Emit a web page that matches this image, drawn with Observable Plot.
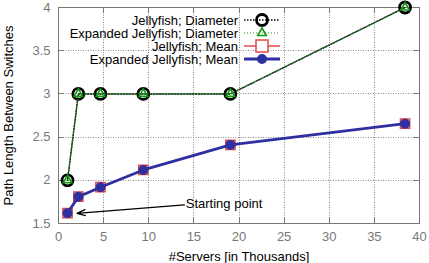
<!DOCTYPE html>
<html><head><meta charset="utf-8">
<script src="https://cdn.jsdelivr.net/npm/d3@7"></script>
<script src="https://cdn.jsdelivr.net/npm/@observablehq/plot@0.6"></script>
<style>body{margin:0;background:#fff}svg{display:block}</style>
</head><body><div id="chart"></div>
<script>
const servers = [1.0, 2.2, 4.65, 9.4, 19.05, 38.4];
const jfDiameter = [2, 3, 3, 3, 3, 4];
const ejfDiameter = [2, 3, 3, 3, 3, 4];
const jfMean = [1.62, 1.81, 1.92, 2.12, 2.41, 2.655];
const ejfMean = [1.62, 1.81, 1.92, 2.12, 2.41, 2.655];
const xTicks = [0, 5, 10, 15, 20, 25, 30, 35, 40];
const yTicks = [1.5, 2, 2.5, 3, 3.5, 4];
const seriesNames = ["Jellyfish; Diameter", "Expanded Jellyfish; Diameter", "Jellyfish; Mean", "Expanded Jellyfish; Mean"];
const annotation = [{label: "Starting point", x: 14.1, y: 1.73, ax1: 13.95, ay1: 1.715, ax2: 2.05, ay2: 1.618}];

const mk = ys => servers.map((x, i) => ({x, y: ys[i]}));
const d1 = mk(jfDiameter), d2 = mk(ejfDiameter), d3m = mk(jfMean), d4 = mk(ejfMean);

const W = 429, H = 263, mL = 58, mR = 10, mT = 7, mB = 40;
const FONT = "Liberation Sans, Arial, Helvetica, sans-serif";
const GRAY = "#777777";
const GRID = "#888888";
const BLUE = "#2e30a0", RED = "#e04848", GREEN = "#119911";
const fmt = d => String(d);

const plot = Plot.plot({
  width: W, height: H,
  marginLeft: mL, marginRight: mR, marginTop: mT, marginBottom: mB,
  style: {fontFamily: FONT, fontSize: "13px"},
  x: {domain: [0, 40]},
  y: {domain: [1.5, 4]},
  marks: [
    Plot.frame({stroke: GRAY, fill: "none", strokeWidth: 1}),
    Plot.axisX(xTicks, {tickSize: 0, tickPadding: 8, fill: GRAY, label: null, fontSize: 13, tickFormat: fmt}),
    Plot.axisY(yTicks, {tickSize: 0, tickPadding: 8, fill: GRAY, label: null, fontSize: 13, tickFormat: fmt}),
    Plot.text(["#Servers [in Thousands]"], {frameAnchor: "bottom", dy: 33, textAnchor: "middle", lineAnchor: "middle", fill: "#000", fontSize: 13}),
    Plot.text(["Path Length Between Switches"], {frameAnchor: "left", dx: -50, rotate: -90, textAnchor: "middle", lineAnchor: "middle", fill: "#000", fontSize: 13}),
    // Jellyfish diameter
    Plot.line(d1, {x: "x", y: "y", stroke: "#000", strokeWidth: 1.5, strokeDasharray: "1.5,1.5"}),
    Plot.dot(d1, {x: "x", y: "y", r: 5.5, stroke: "#000", strokeWidth: 2.8, fill: "none"}),
    // Expanded diameter
    Plot.line(d2, {x: "x", y: "y", stroke: GREEN, strokeWidth: 1, strokeDasharray: "1,2"}),
    Plot.dot(d2, {x: "x", y: "y", symbol: "triangle", r: 3.2, stroke: GREEN, strokeWidth: 1.6, fill: "none"}),
    // Jellyfish mean
    Plot.line(d3m, {x: "x", y: "y", stroke: RED, strokeWidth: 1.5}),
    Plot.dot(d3m, {x: "x", y: "y", symbol: "square", r: 5.2, stroke: RED, strokeWidth: 1.5, fill: "none"}),
    // Expanded mean
    Plot.line(d4, {x: "x", y: "y", stroke: BLUE, strokeWidth: 2.8}),
    Plot.dot(d4, {x: "x", y: "y", r: 5, fill: BLUE, stroke: "none"}),
    // annotation
    Plot.arrow(annotation, {x1: "ax1", y1: "ay1", x2: "ax2", y2: "ay2", stroke: "#000", strokeWidth: 1.3, headLength: 10, headAngle: 40}),
    Plot.text(annotation, {x: "x", y: "y", text: "label", textAnchor: "start", fill: "#000", fontSize: 13})
  ]
});

const svg = d3.select(plot);

// dotted grid and inward ticks from the plot's own scales, placed just before the data lines
const sx = plot.scale("x"), sy = plot.scale("y");
const firstLine = plot.querySelector("g[aria-label='line']");
const gridG = document.createElementNS("http://www.w3.org/2000/svg", "g");
if (firstLine) plot.insertBefore(gridG, firstLine); else plot.appendChild(gridG);
const gg = d3.select(gridG).attr("fill", "none");
xTicks.forEach((v, i) => {
  const px = Math.round(sx.apply(v)) + 0.5;
  if (i > 0 && i < xTicks.length - 1)
    gg.append("line").attr("x1", px).attr("x2", px).attr("y1", mT).attr("y2", H - mB)
      .attr("stroke", GRID).attr("stroke-dasharray", "1,1.5");
  gg.append("line").attr("x1", px).attr("x2", px).attr("y1", H - mB).attr("y2", H - mB - 6).attr("stroke", GRAY);
  gg.append("line").attr("x1", px).attr("x2", px).attr("y1", mT).attr("y2", mT + 6).attr("stroke", GRAY);
});
yTicks.forEach((v, i) => {
  const py = Math.round(sy.apply(v)) + 0.5;
  if (i > 0 && i < yTicks.length - 1)
    gg.append("line").attr("x1", mL).attr("x2", W - mR).attr("y1", py).attr("y2", py)
      .attr("stroke", GRID).attr("stroke-dasharray", "1,1.5");
  gg.append("line").attr("x1", mL).attr("x2", mL + 6).attr("y1", py).attr("y2", py).attr("stroke", GRAY);
  gg.append("line").attr("x1", W - mR).attr("x2", W - mR - 6).attr("y1", py).attr("y2", py).attr("stroke", GRAY);
});

// legend (layout only)
const lg = svg.append("g").attr("font-family", FONT).attr("font-size", 13);
const textRight = 238, symL = 244, symR = 280, symC = 262, row0 = 20, rowH = 13;
const styles = [
  {stroke: "#000", w: 1.5, dash: "1.5,1.5"},
  {stroke: GREEN, w: 1, dash: "1,2"},
  {stroke: RED, w: 1.5, dash: null},
  {stroke: BLUE, w: 2.8, dash: null}
];
seriesNames.forEach((name, i) => {
  const y = row0 + i * rowH;
  lg.append("text").attr("x", textRight).attr("y", y).attr("dy", "0.35em")
    .attr("text-anchor", "end").attr("fill", "#000").text(name);
  lg.append("line").attr("x1", symL).attr("x2", symR).attr("y1", y).attr("y2", y)
    .attr("stroke", styles[i].stroke).attr("stroke-width", styles[i].w)
    .attr("stroke-dasharray", styles[i].dash);
  if (i === 0) lg.append("circle").attr("cx", symC).attr("cy", y).attr("r", 5.5)
    .attr("fill", "none").attr("stroke", "#000").attr("stroke-width", 2.8);
  if (i === 1) lg.append("path").attr("d", d3.symbol(d3.symbolTriangle, 3.2 * 3.2 * Math.PI)())
    .attr("transform", `translate(${symC},${y})`).attr("fill", "none").attr("stroke", GREEN).attr("stroke-width", 1.6);
  if (i === 2) lg.append("rect").attr("x", symC - 6).attr("y", y - 6).attr("width", 12).attr("height", 12)
    .attr("fill", "#fff").attr("stroke", RED).attr("stroke-width", 1.5);
  if (i === 3) lg.append("circle").attr("cx", symC).attr("cy", y).attr("r", 5).attr("fill", BLUE);
});

document.getElementById("chart").appendChild(plot);
</script></body></html>
